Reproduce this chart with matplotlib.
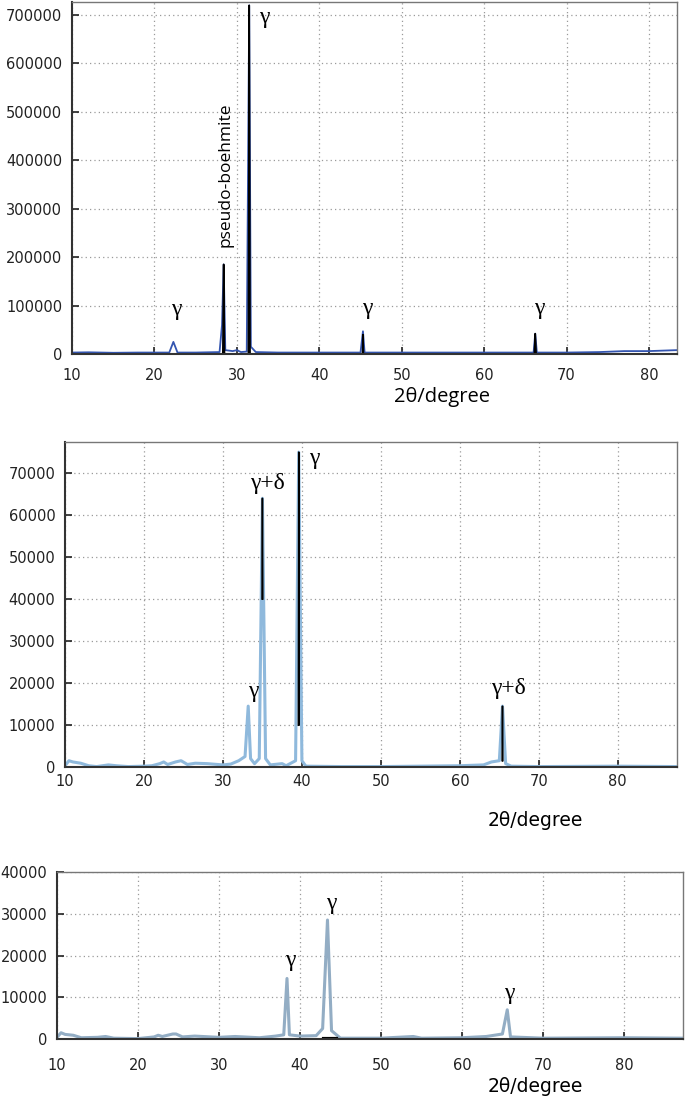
import matplotlib

matplotlib.use("Agg")
import matplotlib.pyplot as plt

# --- panel 1: trace points ---
x1 = [10, 12, 15, 18, 20, 21.8, 22.3, 22.8, 25, 27.9, 28.2, 28.4, 28.6, 29.5, 30.0,
      30.5, 31.2, 31.5, 31.7, 32.3, 35, 40, 45.0, 45.3, 45.5, 50, 60, 66.0, 66.2, 66.4,
      70, 74, 77, 80, 83.4]
y1 = [3000, 3500, 2500, 3000, 3000, 3000, 25000, 3000, 3000, 4000, 60000, 185000, 8000,
      6000, 8000, 4000, 5000, 720000, 15000, 4000, 3000, 3000, 3000, 47000, 3000, 3000,
      3000, 3000, 42000, 3000, 3000, 4000, 6000, 6000, 8000]
# black overlay (dark centre of the strong peaks)
pk1_x = [28.3, 28.4, 28.5, None, 31.4, 31.5, 31.6, None, 45.25, 45.3, 45.35, None,
         66.1, 66.2, 66.3]
pk1_y = [3000, 185000, 3000, None, 3000, 720000, 3000, None, 3000, 40000, 3000, None,
         3000, 42000, 3000]

# --- panel 2 ---
x2 = [10, 10.5, 11, 12, 13, 14, 15.5, 16.5, 18, 20, 21, 22, 22.5, 23, 24, 24.7, 25.5,
      26.5, 28, 30, 31, 32, 32.8, 33.2, 33.5, 34, 34.6, 35.0, 35.4, 36, 37.5, 38, 39.2,
      39.6, 40.0, 40.5, 45, 50, 55, 60, 63, 64, 65, 65.4, 65.8, 66.5, 70, 80, 87.5]
y2 = [300, 1500, 1200, 900, 300, 100, 500, 300, 100, 200, 300, 800, 1200, 600, 1200,
      1500, 600, 900, 800, 500, 700, 1500, 2500, 14500, 2000, 800, 2000, 64000, 2000, 500,
      800, 300, 1500, 75000, 1500, 200, 100, 100, 200, 300, 500, 1200, 1500, 14500, 800,
      200, 100, 200, 100]
pk2_x = [34.95, 35.0, 35.05, None, 39.55, 39.6, 39.65, None, 65.35, 65.4, 65.45]
pk2_y = [40000, 64000, 40000, None, 10000, 75000, 10000, None, 1500, 14500, 1500]

# --- panel 3 ---
x3 = [10, 10.5, 11, 12, 13, 15, 16, 17, 20, 22, 22.5, 23, 24.3, 24.7, 25.5, 27, 30, 32,
      35, 37, 38, 38.4, 38.7, 40, 42, 42.8, 43.4, 43.9, 45, 50, 54, 55, 60, 63, 65, 65.6,
      66, 70, 80, 87.3]
y3 = [400, 1500, 1100, 900, 300, 400, 600, 200, 100, 500, 900, 600, 1200, 1200, 500, 700,
      400, 600, 300, 700, 1000, 14500, 1000, 700, 800, 2500, 28500, 2000, 200, 200, 600,
      200, 300, 600, 1200, 7000, 500, 200, 300, 200]

# annotations: (text, x, y)
ann1 = [("γ", 22.6, 91000), ("γ", 33.3, 696000), ("γ", 45.8, 95000), ("γ", 66.7, 95000)]
ann2 = [("γ+δ", 35.6, 67600), ("γ", 41.6, 73500), ("γ", 33.8, 17900), ("γ+δ", 66.1, 18600)]
ann3 = [("γ", 43.8, 32500), ("γ", 38.8, 18900), ("γ", 65.8, 11000)]

W, H = 685, 1104
fig = plt.figure(figsize=(W / 100, H / 100), dpi=100)
plt.rcParams["font.family"] = ["DejaVu Sans"]


def axes_px(l, r, t, b):
    return fig.add_axes([l / W, 1 - b / H, (r - l) / W, (b - t) / H])


def style(ax, xmax, ymax, ystep, xpad):
    ax.set_xlim(10, xmax)
    ax.set_ylim(0, ymax)
    ax.set_xticks(range(10, 90, 10))
    ax.set_yticks(range(0, int(ymax) + 1, ystep))
    ax.grid(True, color="#9a9a9a", lw=0.9, ls=(0, (1, 2.5)))
    ax.tick_params(direction="in", length=5, width=1.2, color="#222", labelsize=10.5,
                   labelcolor="#222")
    ax.tick_params(axis="x", pad=xpad)
    ax.tick_params(axis="y", pad=7)
    for s in ["left", "bottom"]:
        ax.spines[s].set_color("#333")
        ax.spines[s].set_linewidth(1.5)
    for s in ["top", "right"]:
        ax.spines[s].set_color("#777")
        ax.spines[s].set_linewidth(1.0)


serif = ["Liberation Serif", "DejaVu Serif"]

# panel 1
ax1 = axes_px(72, 677, 2, 354)
ax1.plot(x1, y1, color="#3455b0", lw=1.3)
ax1.plot(pk1_x, pk1_y, color="black", lw=1.2)
style(ax1, 83.4, 727000, 100000, 10)
for t, x, y in ann1:
    ax1.text(x, y, t, family=serif, fontsize=17, ha="center", va="center")
ax1.text(28.6, 221000, "pseudo-boehmite", rotation=90, fontsize=12.5,
         family=["Open Sans", "DejaVu Sans"], ha="center", va="bottom")
fig.text(442 / W, 1 - 397 / H, "2θ/degree", fontsize=14.5,
         family=["Open Sans", "DejaVu Sans"], ha="center", va="center")

# panel 2
ax2 = axes_px(65, 677, 442, 767)
ax2.plot(x2, y2, color="#8fb9dc", lw=2.2)
ax2.plot(pk2_x, pk2_y, color="black", lw=1.1)
style(ax2, 87.5, 77400, 10000, 5)
for t, x, y in ann2:
    ax2.text(x, y, t, family=serif, fontsize=17, ha="center", va="center")
fig.text(535 / W, 1 - 821 / H, "2θ/degree", fontsize=13.5, family=["DejaVu Sans"],
         ha="center", va="center")

# panel 3
ax3 = axes_px(57, 683, 872, 1039)
ax3.plot(x3, y3, color="#93adc4", lw=2.2)
ax3.plot([43, 44.5], [0, 0], color="black", lw=3)
style(ax3, 87.3, 40000, 10000, 14)
for t, x, y in ann3:
    ax3.text(x, y, t, family=serif, fontsize=17, ha="center", va="center")
fig.text(535 / W, 1 - 1087 / H, "2θ/degree", fontsize=13.5, family=["DejaVu Sans"],
         ha="center", va="center")

fig.savefig("out.png", dpi=100)
